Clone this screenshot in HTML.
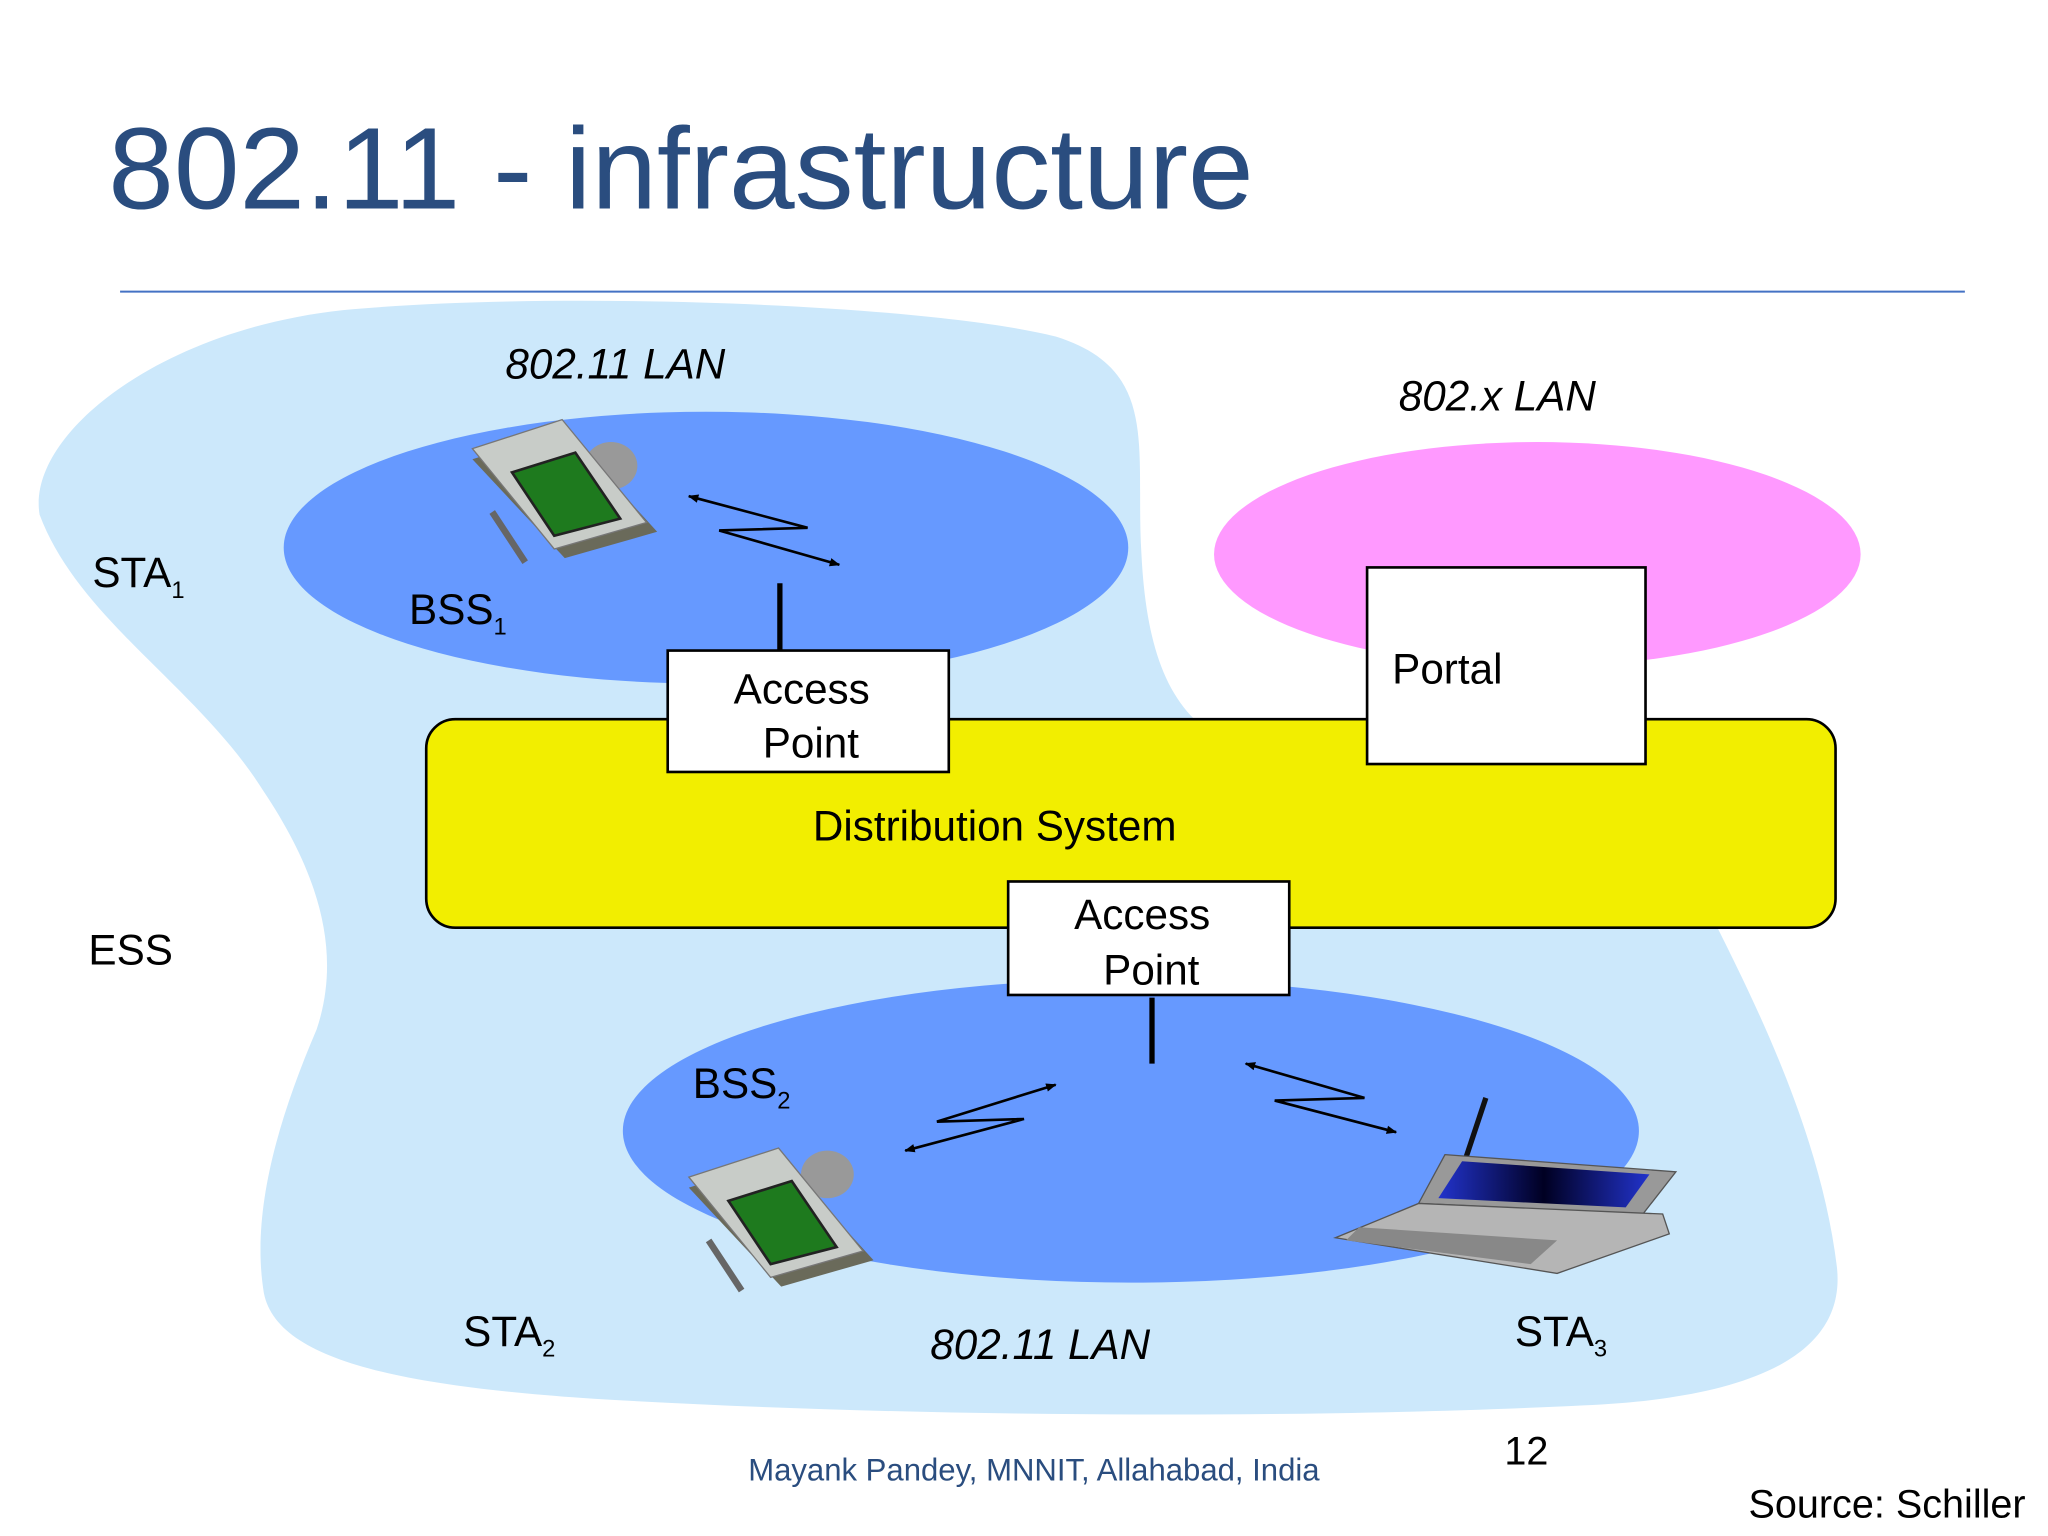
<!DOCTYPE html>
<html><head><meta charset="utf-8"><style>
html,body{margin:0;padding:0;background:#fff;}
svg{display:block;}
text{font-family:"Liberation Sans",sans-serif;}
</style></head><body>
<svg width="2048" height="1536" viewBox="0 0 1552 1164" xmlns="http://www.w3.org/2000/svg">
<defs>
<marker id="ah" viewBox="0 0 10 10" refX="9" refY="5" markerWidth="8" markerHeight="8" orient="auto-start-reverse" markerUnits="userSpaceOnUse"><path d="M0,1 L10,5 L0,9 z" fill="#000"/></marker>
<linearGradient id="scr" x1="0" x2="1"><stop offset="0" stop-color="#2233cc"/><stop offset="0.5" stop-color="#000022"/><stop offset="1" stop-color="#2233cc"/></linearGradient>
</defs>
<rect width="1552" height="1164" fill="#fff"/>
<text x="82" y="158" font-size="88" fill="#2a4d7f" textLength="868" lengthAdjust="spacingAndGlyphs">802.11 - infrastructure</text>
<line x1="91" y1="221" x2="1489" y2="221" stroke="#4472c4" stroke-width="1.5"/>

<path d="M30,390 C20,330 120,250 260,235 C420,220 700,230 800,255 C880,280 860,340 865,420 C868,480 880,520 905,545 L1300,700 C1330,760 1380,860 1392,960 C1400,1030 1320,1060 1200,1065 C1000,1075 700,1075 450,1060 C300,1050 210,1030 200,980 C190,920 210,850 240,780 C260,720 240,660 200,600 C150,520 60,470 30,390 Z" fill="#cce8fb"/>

<ellipse cx="535" cy="415" rx="320" ry="103" fill="#6699ff"/>
<ellipse cx="1165" cy="420" rx="245" ry="85" fill="#ff99ff"/>
<ellipse cx="857" cy="857" rx="385" ry="115" fill="#6699ff"/>

<rect x="323" y="545" width="1068" height="158" rx="22" fill="#f2ee00" stroke="#000" stroke-width="2"/>
<rect x="506" y="493" width="213" height="92" fill="#fff" stroke="#000" stroke-width="2"/>
<rect x="764" y="668" width="213" height="86" fill="#fff" stroke="#000" stroke-width="2"/>
<rect x="1036" y="430" width="211" height="149" fill="#fff" stroke="#000" stroke-width="2"/>
<line x1="591" y1="442" x2="591" y2="493" stroke="#000" stroke-width="4"/>
<line x1="873" y1="756" x2="873" y2="806" stroke="#000" stroke-width="4"/>

<g fill="none" stroke="#000" stroke-width="2">
<polyline points="522,376 612,400 545,402 636,428" marker-start="url(#ah)" marker-end="url(#ah)"/>
<polyline points="686,872 776,848 710,850 800,822" marker-start="url(#ah)" marker-end="url(#ah)"/>
<polyline points="944,806 1034,832 966,834 1058,858" marker-start="url(#ah)" marker-end="url(#ah)"/>
</g>

<g font-size="32" fill="#000">
<text x="556" y="533">Access</text><text x="578" y="574">Point</text>
<text x="814" y="704">Access</text><text x="836" y="746">Point</text>
<text x="1055" y="518">Portal</text>
<text x="616" y="637">Distribution System</text>
<text x="383" y="287" font-style="italic">802.11 LAN</text>
<text x="1060" y="311" font-style="italic">802.x LAN</text>
<text x="705" y="1030" font-style="italic">802.11 LAN</text>
<text x="70" y="445">STA<tspan font-size="18" dy="8">1</tspan></text>
<text x="310" y="473">BSS<tspan font-size="18" dy="8">1</tspan></text>
<text x="67" y="731">ESS</text>
<text x="525" y="832">BSS<tspan font-size="18" dy="8">2</tspan></text>
<text x="351" y="1020">STA<tspan font-size="18" dy="8">2</tspan></text>
<text x="1148" y="1020">STA<tspan font-size="18" dy="8">3</tspan></text>
<text x="1140" y="1110" font-size="30">12</text>
<text x="1325" y="1150" font-size="30">Source: Schiller</text>
</g>
<text x="567" y="1122" font-size="24" fill="#2a4d7f" textLength="433" lengthAdjust="spacingAndGlyphs">Mayank Pandey, MNNIT, Allahabad, India</text>

<g transform="translate(358,318)">
<ellipse cx="105" cy="35" rx="20" ry="18" fill="#999"/>
<polygon points="0,30 70,8 140,85 70,105" fill="#6a6a5a"/>
<polygon points="0,22 68,0 132,78 62,98" fill="#c8ccc8" stroke="#777"/>
<polygon points="30,40 78,25 112,75 62,88" fill="#1e7a1e" stroke="#222" stroke-width="2"/>
<line x1="15" y1="70" x2="40" y2="108" stroke="#666" stroke-width="5"/>
</g>
<g transform="translate(522,870)">
<ellipse cx="105" cy="20" rx="20" ry="18" fill="#999"/>
<polygon points="0,30 70,8 140,85 70,105" fill="#6a6a5a"/>
<polygon points="0,22 68,0 132,78 62,98" fill="#c8ccc8" stroke="#777"/>
<polygon points="30,40 78,25 112,75 62,88" fill="#1e7a1e" stroke="#222" stroke-width="2"/>
<line x1="15" y1="70" x2="40" y2="108" stroke="#666" stroke-width="5"/>
</g>
<g>
<line x1="1110" y1="880" x2="1126" y2="832" stroke="#111" stroke-width="4"/>
<polygon points="1095,875 1270,888 1245,920 1075,912" fill="#999" stroke="#555"/>
<polygon points="1108,880 1250,890 1232,915 1090,908" fill="url(#scr)"/>
<polygon points="1075,912 1260,920 1265,935 1180,965 1012,938" fill="#b5b5b5" stroke="#555"/>
<polygon points="1030,930 1180,940 1160,958 1020,940" fill="#888"/>
</g>
</svg>
</body></html>
